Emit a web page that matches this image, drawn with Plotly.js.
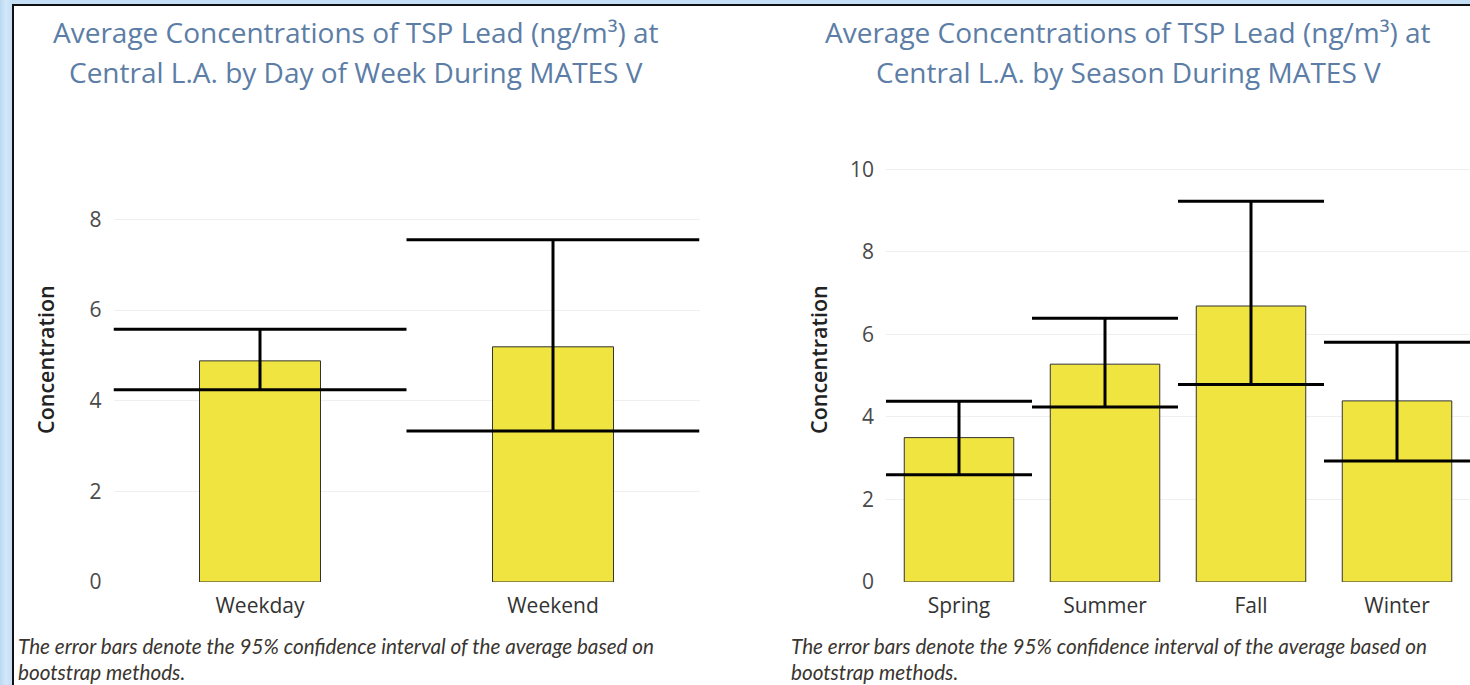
<!DOCTYPE html>
<html>
<head>
<meta charset="utf-8">
<script src="https://cdn.plot.ly/plotly-3.0.1.min.js"></script>
<style>
  html, body { margin: 0; padding: 0; width: 1470px; height: 685px; overflow: hidden;
    background: linear-gradient(90deg, #b9d9f4 0px, #d3e8f8 6px, #c3def5 12px); }
  #frame { position: absolute; left: 12px; top: 4px; width: 1458px; height: 681px;
    border-left: 2px solid #111; border-top: 2px solid #111; background: #ffffff; }
  #chart { width: 1456px; height: 679px; }
</style>
</head>
<body>
<div id="frame"><div id="chart"></div></div>
<script>
// ---- Data ----
const dayCategories = ['Weekday', 'Weekend'];
const dayMean  = [4.88, 5.19];
const dayLower = [4.24, 3.33];
const dayUpper = [5.58, 7.55];

const seasonCategories = ['Spring', 'Summer', 'Fall', 'Winter'];
const seasonMean  = [3.50, 5.28, 6.69, 4.39];
const seasonLower = [2.60, 4.24, 4.79, 2.93];
const seasonUpper = [4.38, 6.39, 9.23, 5.81];

const titleDayLines = ['Average Concentrations of TSP Lead (ng/m³) at', 'Central L.A. by Day of Week During MATES V'];
const titleSeasonLines = ['Average Concentrations of TSP Lead (ng/m³) at', 'Central L.A. by Season During MATES V'];
const yTitle = 'Concentration';
const footnoteLines = ['The error bars denote the 95% confidence interval of the average based on', 'bootstrap methods.'];

// ---- Styling ----
const W = 1456, H = 679;
const barColor = '#efe440';
const titleColor = '#5b7da6';
const tickFont = {family: 'Open Sans, sans-serif', size: 21, color: '#4a4a4a'};
const xTickFont = {family: 'Open Sans, sans-serif', size: 21, color: '#333333'};

function diff(a, b) { return a.map((v, i) => +(v - b[i]).toFixed(3)); }

const traces = [
  {
    type: 'bar', x: dayCategories, y: dayMean, xaxis: 'x', yaxis: 'y',
    width: 0.413,
    marker: {color: barColor, line: {color: '#333333', width: 1}},
    error_y: {type: 'data', symmetric: false, array: diff(dayUpper, dayMean),
      arrayminus: diff(dayMean, dayLower), color: '#000000', thickness: 3, width: 146.5},
    hoverinfo: 'skip', showlegend: false
  },
  {
    type: 'bar', x: seasonCategories, y: seasonMean, xaxis: 'x2', yaxis: 'y2',
    width: 0.75,
    marker: {color: barColor, line: {color: '#333333', width: 1}},
    error_y: {type: 'data', symmetric: false, array: diff(seasonUpper, seasonMean),
      arrayminus: diff(seasonMean, seasonLower), color: '#000000', thickness: 3, width: 73},
    hoverinfo: 'skip', showlegend: false
  }
];

function px2fx(p) { return p / W; }
function py2fy(p) { return 1 - p / H; }

const annotations = [];
function addTitle(lines, cx) {
  const ys = [26, 66];
  lines.forEach((t, i) => annotations.push({
    text: t, xref: 'paper', yref: 'paper', x: px2fx(cx), y: py2fy(ys[i]),
    xanchor: 'center', yanchor: 'middle', showarrow: false,
    font: {family: 'Open Sans, sans-serif', size: 28, color: titleColor}
  }));
}
addTitle(titleDayLines, 342);
addTitle(titleSeasonLines, 1114);

function addYTitle(cx) {
  annotations.push({
    text: yTitle, xref: 'paper', yref: 'paper', x: px2fx(cx), y: py2fy(354),
    xanchor: 'center', yanchor: 'middle', textangle: -90, showarrow: false,
    font: {family: 'Open Sans, sans-serif', size: 21.5, color: '#222222', weight: 600}
  });
}
addYTitle(31);
addYTitle(804);

function addFootnote(lx) {
  const ys = [640, 666];
  footnoteLines.forEach((t, i) => annotations.push({
    text: '<i>' + t + '</i>', xref: 'paper', yref: 'paper', x: px2fx(lx), y: py2fy(ys[i]),
    xanchor: 'left', yanchor: 'middle', showarrow: false,
    font: {family: 'Lato, sans-serif', size: 20.7, color: '#3a3530'}
  }));
}
addFootnote(2);
addFootnote(775);

const gridColor = '#efefef';
const layout = {
  width: W, height: H,
  margin: {l: 0, r: 0, t: 0, b: 0},
  paper_bgcolor: '#ffffff', plot_bgcolor: '#ffffff',
  showlegend: false,
  xaxis: {domain: [px2fx(99.5), px2fx(685.5)], type: 'category', range: [-0.5, 1.5],
    showgrid: false, zeroline: false, showline: false, ticks: '',
    tickfont: xTickFont, ticklabelstandoff: 9, fixedrange: true},
  yaxis: {domain: [py2fy(576), py2fy(189)], range: [0, 8.54], tickvals: [0, 2, 4, 6, 8],
    showgrid: true, gridcolor: gridColor, gridwidth: 1, zeroline: false, showline: false,
    ticks: '', tickfont: tickFont, ticklabelstandoff: 11, fixedrange: true},
  xaxis2: {domain: [px2fx(872), 1], type: 'category', range: [-0.5, 3.5], anchor: 'y2',
    showgrid: false, zeroline: false, showline: false, ticks: '',
    tickfont: xTickFont, ticklabelstandoff: 9, fixedrange: true},
  yaxis2: {domain: [py2fy(576), py2fy(149)], range: [0, 10.35], tickvals: [0, 2, 4, 6, 8, 10],
    anchor: 'x2',
    showgrid: true, gridcolor: gridColor, gridwidth: 1, zeroline: false, showline: false,
    ticks: '', tickfont: tickFont, ticklabelstandoff: 11, fixedrange: true},
  annotations: annotations
};

Plotly.newPlot('chart', traces, layout, {displayModeBar: false, staticPlot: true});
</script>
</body>
</html>
